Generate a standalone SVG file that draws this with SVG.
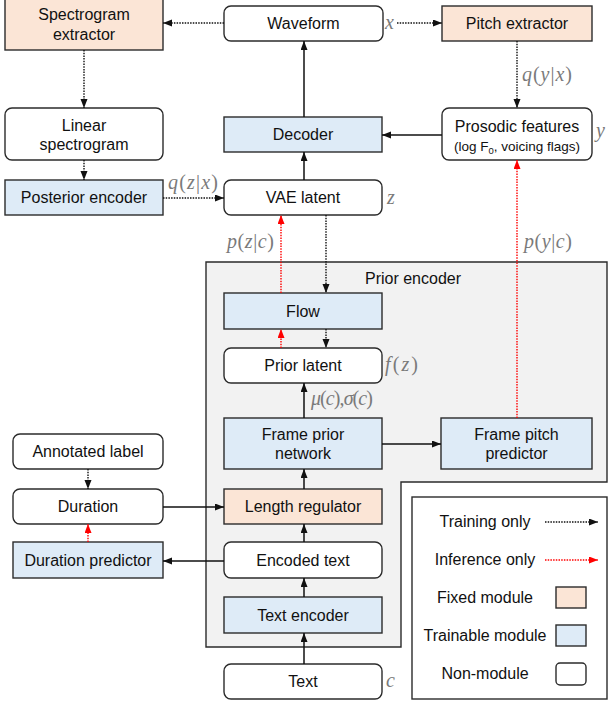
<svg xmlns="http://www.w3.org/2000/svg" width="608" height="704" viewBox="0 0 608 704">
<defs>
<marker id="ab" markerUnits="userSpaceOnUse" markerWidth="10" markerHeight="8" refX="9" refY="3.5" orient="auto"><path d="M0,0 L9,3.5 L0,7 Z" fill="#111"/></marker>
<marker id="ar" markerUnits="userSpaceOnUse" markerWidth="10" markerHeight="8" refX="9" refY="3.5" orient="auto"><path d="M0,0 L9,3.5 L0,7 Z" fill="#f00"/></marker>
<style>
.n{stroke:#2b2b2b;stroke-width:1.4}
.fix{fill:#fbe5d6}
.tr{fill:#deebf7}
.nm{fill:#fff}
.t{font-family:"Liberation Sans",Arial,sans-serif;font-size:16px;fill:#111;text-anchor:middle}
.s{font-size:13.5px}
.m{font-family:"Liberation Serif","Times New Roman",serif;font-size:20px;fill:#7a7a7a}
.i{font-style:italic}
.sol{stroke:#111;stroke-width:1.5;fill:none;marker-end:url(#ab)}
.dot{stroke:#111;stroke-width:1.4;stroke-dasharray:1.5 1.2;fill:none;marker-end:url(#ab)}
.red{stroke:#f00;stroke-width:1.4;stroke-dasharray:1.5 1.2;fill:none;marker-end:url(#ar)}
</style>
</defs>
<rect width="608" height="704" fill="#fff"/>
<g id="prior-encoder">
<path d="M206,262 H607 V482 H401 V647 H206 Z" fill="#f2f2f2" stroke="#2b2b2b" stroke-width="1.4"/>
<text class="t" x="413" y="284">Prior encoder</text>
</g>
<g id="spectrogram-extractor"><rect class="n fix" x="5" y="-2" width="158" height="52"/><text class="t" x="84" y="20">Spectrogram</text><text class="t" x="84" y="39.5">extractor</text></g>
<g id="waveform"><rect class="n nm" x="224" y="6" width="159" height="35" rx="7"/><text class="t" x="303.5" y="29">Waveform</text></g>
<g id="pitch-extractor"><rect class="n fix" x="442" y="6" width="150" height="35"/><text class="t" x="517" y="29">Pitch extractor</text></g>
<g id="linear-spectrogram"><rect class="n nm" x="5" y="108" width="158" height="52" rx="7"/><text class="t" x="84" y="130.5">Linear</text><text class="t" x="84" y="150">spectrogram</text></g>
<g id="decoder"><rect class="n tr" x="224" y="117" width="158" height="35"/><text class="t" x="303" y="140">Decoder</text></g>
<g id="prosodic-features"><rect class="n nm" x="442" y="108" width="150" height="52" rx="7"/><text class="t" x="517" y="132">Prosodic features</text><text class="t s" x="517" y="151">(log F<tspan font-size="9.5" dy="3">0</tspan><tspan dy="-3">, voicing flags)</tspan></text></g>
<g id="posterior-encoder"><rect class="n tr" x="5" y="180" width="158" height="35"/><text class="t" x="84" y="203">Posterior encoder</text></g>
<g id="vae-latent"><rect class="n nm" x="224" y="180" width="158" height="35" rx="7"/><text class="t" x="303" y="203">VAE latent</text></g>
<g id="flow"><rect class="n tr" x="224" y="293" width="158" height="36"/><text class="t" x="303" y="316.5">Flow</text></g>
<g id="prior-latent"><rect class="n nm" x="224" y="348" width="158" height="35" rx="7"/><text class="t" x="303" y="371">Prior latent</text></g>
<g id="frame-prior-network"><rect class="n tr" x="224" y="418" width="158" height="51"/><text class="t" x="303" y="439.5">Frame prior</text><text class="t" x="303" y="459">network</text></g>
<g id="frame-pitch-predictor"><rect class="n tr" x="441" y="418" width="151" height="51"/><text class="t" x="516.5" y="439.5">Frame pitch</text><text class="t" x="516.5" y="459">predictor</text></g>
<g id="annotated-label"><rect class="n nm" x="13" y="434" width="150" height="35" rx="7"/><text class="t" x="88" y="457">Annotated label</text></g>
<g id="duration"><rect class="n nm" x="13" y="489" width="150" height="35" rx="7"/><text class="t" x="88" y="512">Duration</text></g>
<g id="duration-predictor"><rect class="n tr" x="13" y="542" width="150" height="36"/><text class="t" x="88" y="566">Duration predictor</text></g>
<g id="length-regulator"><rect class="n fix" x="224" y="489" width="158" height="35"/><text class="t" x="303" y="512">Length regulator</text></g>
<g id="encoded-text"><rect class="n nm" x="224" y="542" width="158" height="36" rx="7"/><text class="t" x="303" y="566">Encoded text</text></g>
<g id="text-encoder"><rect class="n tr" x="224" y="597" width="158" height="36"/><text class="t" x="303" y="621">Text encoder</text></g>
<g id="text"><rect class="n nm" x="224" y="664" width="158" height="35" rx="7"/><text class="t" x="303" y="687">Text</text></g>
<g id="legend">
<rect x="412" y="497" width="195" height="202" fill="#fff" stroke="#2b2b2b" stroke-width="1.4"/>
<text class="t" x="485" y="527">Training only</text>
<line class="dot" x1="545" y1="522" x2="598" y2="522"/>
<text class="t" x="485" y="565">Inference only</text>
<line class="red" x1="545" y1="560" x2="598" y2="560"/>
<text class="t" x="485" y="603">Fixed module</text>
<rect class="n fix" x="556" y="587" width="30" height="21"/>
<text class="t" x="485" y="641">Trainable module</text>
<rect class="n tr" x="556" y="625" width="30" height="21"/>
<text class="t" x="485" y="679">Non-module</text>
<rect class="n nm" x="556" y="663" width="30" height="22" rx="4"/>
</g>
<g id="labels">
<text class="m i" x="385" y="29">x</text>
<text class="m" x="168" y="189" textLength="50"><tspan class="i">q</tspan>(<tspan class="i">z</tspan>|<tspan class="i">x</tspan>)</text>
<text class="m i" x="387" y="204">z</text>
<text class="m" x="522" y="81" textLength="50"><tspan class="i">q</tspan>(<tspan class="i">y</tspan>|<tspan class="i">x</tspan>)</text>
<text class="m i" x="596" y="137">y</text>
<text class="m" x="227" y="248" textLength="47"><tspan class="i">p</tspan>(<tspan class="i">z</tspan>|<tspan class="i">c</tspan>)</text>
<text class="m" x="524" y="248" textLength="48"><tspan class="i">p</tspan>(<tspan class="i">y</tspan>|<tspan class="i">c</tspan>)</text>
<text class="m" x="385" y="371" textLength="33"><tspan class="i">f</tspan>(<tspan class="i">z</tspan>)</text>
<text class="m" x="311" y="405" font-size="18" textLength="62"><tspan class="i">μ</tspan>(<tspan class="i">c</tspan>),<tspan class="i">σ</tspan>(<tspan class="i">c</tspan>)</text>
<text class="m i" x="386" y="687">c</text>
</g>
<g id="connectors">
<line class="dot" x1="224" y1="23" x2="163" y2="23"/>
<line class="dot" x1="84" y1="50" x2="84" y2="108"/>
<line class="dot" x1="84" y1="160" x2="84" y2="180"/>
<line class="dot" x1="163" y1="198" x2="224" y2="198"/>
<line class="dot" x1="397" y1="23" x2="442" y2="23"/>
<line class="dot" x1="517" y1="41" x2="517" y2="108"/>
<line class="sol" x1="442" y1="135" x2="382" y2="135"/>
<line class="sol" x1="304" y1="117" x2="304" y2="41"/>
<line class="sol" x1="304" y1="180" x2="304" y2="152"/>
<line class="red" x1="281" y1="293" x2="281" y2="215"/>
<line class="dot" x1="326" y1="215" x2="326" y2="293"/>
<line class="red" x1="281" y1="348" x2="281" y2="329"/>
<line class="dot" x1="326" y1="329" x2="326" y2="348"/>
<line class="sol" x1="304" y1="418" x2="304" y2="383"/>
<line class="sol" x1="382" y1="444" x2="441" y2="444"/>
<line class="red" x1="517" y1="418" x2="517" y2="160"/>
<line class="sol" x1="304" y1="489" x2="304" y2="469"/>
<line class="sol" x1="304" y1="542" x2="304" y2="524"/>
<line class="sol" x1="304" y1="597" x2="304" y2="578"/>
<line class="sol" x1="304" y1="664" x2="304" y2="633"/>
<line class="dot" x1="88" y1="469" x2="88" y2="489"/>
<line class="red" x1="88" y1="542" x2="88" y2="524"/>
<line class="sol" x1="163" y1="507" x2="224" y2="507"/>
<line class="sol" x1="224" y1="561" x2="163" y2="561"/>
</g>
</svg>
